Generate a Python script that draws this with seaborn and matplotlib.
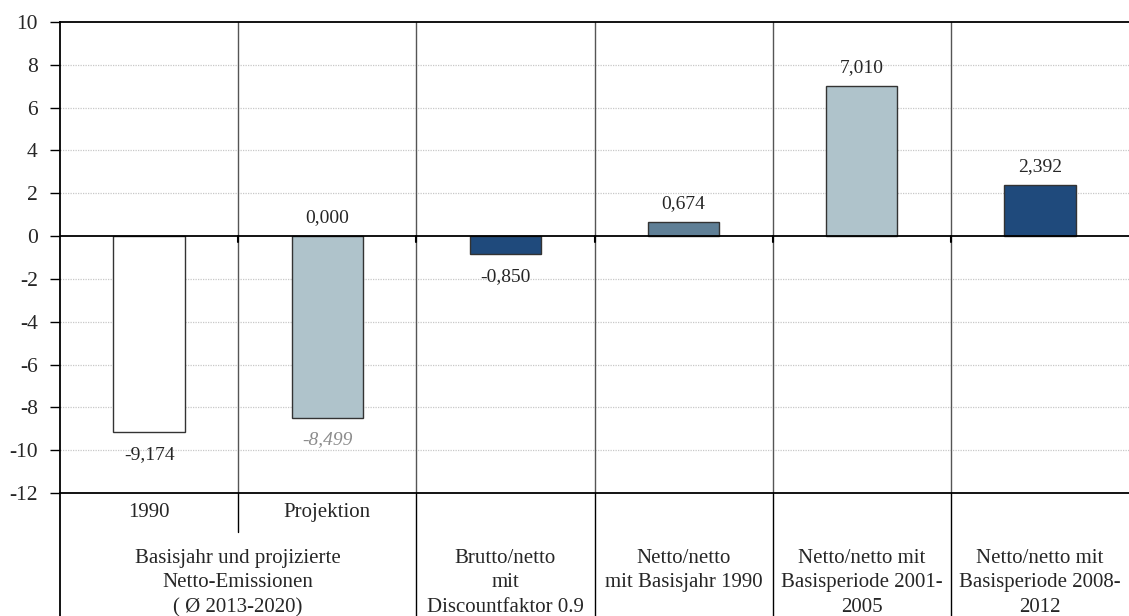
import matplotlib
matplotlib.use("Agg")
import matplotlib.pyplot as plt
import seaborn as sns

# daten
kategorien = ["1990", "Projektion", "Brutto", "Netto1990", "Netto2001", "Netto2008"]
werte = [-9.174, -8.499, -0.850, 0.674, 7.010, 2.392]
farben = ["#FFFFFF", "#AFC3CB", "#1F4A7C", "#5F7F96", "#AFC3CB", "#1F4A7C"]
wert_labels = ["-9,174", "0,000", "-0,850", "0,674", "7,010", "2,392"]
proj_label = "-8,499"
y_ticks = [10, 8, 6, 4, 2, 0, -2, -4, -6, -8, -10, -12]

unter_labels = ["1990", "Projektion"]
gruppen_labels = [
    "Basisjahr und projizierte\nNetto-Emissionen\n( Ø 2013-2020)",
    "Brutto/netto\nmit\nDiscountfaktor 0.9",
    "Netto/netto\nmit Basisjahr 1990",
    "Netto/netto mit\nBasisperiode 2001-\n2005",
    "Netto/netto mit\nBasisperiode 2008-\n2012",
]
gruppen_pos = [0.5, 2, 3, 4, 5]

sns.set_theme(style="white")
plt.rcParams["font.family"] = ["Liberation Serif", "DejaVu Serif"]

fig = plt.figure(figsize=(11.29, 6.16), dpi=100)
ax = fig.add_axes([60 / 1129, 123 / 616, 1069 / 1129, 471 / 616])

sns.barplot(x=kategorien, y=werte, hue=kategorien, palette=farben, width=0.4,
            edgecolor="#333333", linewidth=1, legend=False, ax=ax, saturation=1)

ax.set_xlim(-0.5, 5.5)
ax.set_ylim(-12, 10)
ax.set_yticks(y_ticks)
ax.set_yticklabels([str(t) for t in y_ticks], fontsize=15.5)
ax.tick_params(axis="y", length=7, width=1, color="black", pad=9, left=True)
ax.set_xticks([])
ax.set_xlabel("")
ax.set_ylabel("")

# gitter gepunktet
for t in y_ticks:
    if t not in (10, 0, -12):
        ax.axhline(t, color="#C8C8C8", lw=0.9, ls=(0, (1, 1)), zorder=0)
ax.axhline(0, color="black", lw=1.3, zorder=3)

for side in ["left", "top", "bottom"]:
    ax.spines[side].set_color("black")
    ax.spines[side].set_linewidth(1.3)
ax.spines["right"].set_visible(False)

# trennlinien
trans = ax.get_xaxis_transform()
for i, x in enumerate([0.5, 1.5, 2.5, 3.5, 4.5]):
    ax.axvline(x, color="#555555", lw=1, zorder=1)
    unten = -0.083 if i == 0 else -0.27
    ax.plot([x, x], [0, unten], color="black", lw=1, transform=trans, clip_on=False)
    # kleine ticks unter der nulllinie
    ax.plot([x, x], [12 / 22, 12 / 22 - 0.012], color="black", lw=1.5, transform=trans)
ax.plot([-0.5, -0.5], [0, -0.27], color="black", lw=1.3, transform=trans, clip_on=False)

# wertelabels
for i, (w, lab) in enumerate(zip(werte, wert_labels)):
    if i == 1:
        ax.text(i, 0.45, lab, ha="center", va="bottom", fontsize=14)
        ax.text(i, w - 0.6, proj_label, ha="center", va="top", fontsize=14,
                style="italic", color="#8C8C8C")
    elif w >= 0:
        ax.text(i, w + 0.45, lab, ha="center", va="bottom", fontsize=14)
    else:
        ax.text(i, w - 0.65, lab, ha="center", va="top", fontsize=14)

# tabelle unten
for i, lab in enumerate(unter_labels):
    ax.text(i, -0.042, lab, ha="center", va="center", fontsize=15, transform=trans)
for x, lab in zip(gruppen_pos, gruppen_labels):
    ax.text(x, -0.118, lab, ha="center", va="top", fontsize=15,
            linespacing=1.4, transform=trans)

fig.savefig("out.png", dpi=100)
